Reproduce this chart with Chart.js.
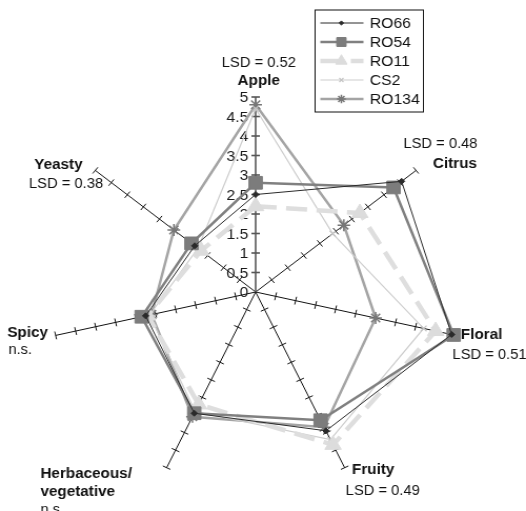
<!DOCTYPE html>
<html lang="en">
<head>
  <meta charset="UTF-8">
  <title>Aroma profile radar</title>
  <style>
    * { margin: 0; padding: 0; box-sizing: border-box; }
    body { background: #fff; width: 526px; height: 511px; overflow: hidden; }
    /* the source figure is slightly wider than tall, so stretch the drawing a bit */
    #wrap { width: 500px; height: 511px; transform: scaleX(1.052); transform-origin: 0 0; }
  </style>
  <script src="https://cdn.jsdelivr.net/npm/chart.js"></script>
</head>
<body>
  <div id="wrap"><canvas id="radar"></canvas></div>

  <script>
    const categories = ["Apple", "Citrus", "Floral", "Fruity", "Herbaceous/vegetative", "Spicy", "Yeasty"];
    const labelLines = [["Apple"], ["Citrus"], ["Floral"], ["Fruity"], ["Herbaceous/", "vegetative"], ["Spicy"], ["Yeasty"]];
    const lsdNotes = ["LSD = 0.52", "LSD = 0.48", "LSD = 0.51", "LSD = 0.49", "n.s.", "n.s.", "LSD = 0.38"];
    const tickValues = [0, 0.5, 1, 1.5, 2, 2.5, 3, 3.5, 4, 4.5, 5];

    const ro66  = [2.5, 4.55, 4.9, 3.95, 3.45, 2.75, 1.9];
    const ro54  = [2.8, 4.3, 4.95, 3.65, 3.45, 2.85, 2.0];
    const ro11  = [2.2, 3.25, 4.5, 4.35, 3.2, 2.7, 1.7];
    const cs2   = [4.7, 2.4, 4.2, 4.2, 3.4, 2.65, 1.8];
    const ro134 = [4.8, 2.75, 3.0, 3.85, 3.55, 2.6, 2.55];

    const FONT = "'Liberation Sans', Arial, sans-serif";

    // where each axis title (and its LSD note) sits relative to the end of its axis
    const labelPlace = [
      { dx: 3, dy: -16, align: "center", ndx: 3, ndy: -34 },
      { dx: 16, dy: -6, align: "left", ndx: -12, ndy: -26 },
      { dx: 5, dy: 0, align: "left", ndx: -3, ndy: 20 },
      { dx: 7, dy: 2, align: "left", ndx: 1, ndy: 23 },
      { dx: -120, dy: 6, align: "left", ndx: -120, ndy: 42 },
      { dx: -46, dy: -2, align: "left", ndx: -45, ndy: 15 },
      { dx: -58, dy: -5, align: "left", ndx: -63, ndy: 14 }
    ];

    const axisTicks = {
      id: "axisTicks",
      beforeDatasetsDraw(chart) {
        const r = chart.scales.r;
        const ctx = chart.ctx;
        ctx.save();
        for (let i = 0; i < categories.length; i++) {
          ctx.strokeStyle = i === 0 ? "#555" : "#111";
          ctx.lineWidth = i === 0 ? 1.6 : 1;
          for (const v of tickValues) {
            if (v === 0) continue;
            const p = r.getPointPositionForValue(i, v);
            const px = -Math.sin(p.angle), py = Math.cos(p.angle);
            ctx.beginPath();
            ctx.moveTo(p.x - px * 4, p.y - py * 4);
            ctx.lineTo(p.x + px * 4, p.y + py * 4);
            ctx.stroke();
          }
        }
        // value labels along the Apple axis
        ctx.fillStyle = "#1a1a1a";
        ctx.font = "15px " + FONT;
        ctx.textAlign = "right";
        ctx.textBaseline = "middle";
        for (const v of tickValues) {
          const p = r.getPointPositionForValue(0, v);
          ctx.fillText(String(v), p.x - 7, p.y + 1);
        }
        ctx.restore();
      }
    };

    const labelsAndLegend = {
      id: "labelsAndLegend",
      afterDraw(chart) {
        const r = chart.scales.r;
        const ctx = chart.ctx;
        ctx.save();
        ctx.fillStyle = "#111";
        ctx.textBaseline = "middle";
        for (let i = 0; i < categories.length; i++) {
          const end = r.getPointPositionForValue(i, 5);
          const pl = labelPlace[i];
          ctx.textAlign = pl.align;
          ctx.font = "bold 14.5px " + FONT;
          labelLines[i].forEach((line, k) => {
            ctx.fillText(line, end.x + pl.dx, end.y + pl.dy + k * 18);
          });
          ctx.font = "14px " + FONT;
          ctx.fillText(lsdNotes[i], end.x + pl.ndx, end.y + pl.ndy);
        }

        // legend box
        const bx = 299.5, by = 10, bw = 103, bh = 102;
        ctx.strokeStyle = "#111";
        ctx.lineWidth = 1;
        ctx.strokeRect(bx, by, bw, bh);
        chart.data.datasets.forEach((ds, k) => {
          const y = 23 + k * 19;
          ctx.save();
          ctx.strokeStyle = ds.borderColor;
          ctx.lineWidth = ds.borderWidth;
          ctx.setLineDash(ds.borderDash || []);
          ctx.beginPath();
          ctx.moveTo(bx + 5, y);
          ctx.lineTo(bx + 46, y);
          ctx.stroke();
          ctx.setLineDash([]);
          ctx.fillStyle = ds.pointBackgroundColor;
          ctx.strokeStyle = ds.pointBorderColor;
          ctx.lineWidth = ds.pointBorderWidth;
          Chart.helpers.drawPoint(ctx, {
            pointStyle: ds.pointStyle,
            radius: ds.pointRadius * 0.7,
            rotation: 0,
            borderWidth: ds.pointBorderWidth
          }, bx + 25, y);
          ctx.restore();
          ctx.fillStyle = "#111";
          ctx.font = "15px " + FONT;
          ctx.textAlign = "left";
          ctx.fillText(ds.label, bx + 52, y + 1);
        });
        ctx.restore();
      }
    };

    new Chart(document.getElementById("radar"), {
      type: "radar",
      data: {
        labels: categories,
        datasets: [
          {
            label: "RO66", data: ro66,
            borderColor: "#2a2a2a", borderWidth: 1,
            pointStyle: "rectRot", pointRadius: 3,
            pointBackgroundColor: "#2a2a2a", pointBorderColor: "#2a2a2a", pointBorderWidth: 1
          },
          {
            label: "RO54", data: ro54,
            borderColor: "#808080", borderWidth: 2.5,
            pointStyle: "rect", pointRadius: 9,
            pointBackgroundColor: "#7c7c7c", pointBorderColor: "#7c7c7c", pointBorderWidth: 1
          },
          {
            label: "RO11", data: ro11,
            borderColor: "#dedede", borderWidth: 4.5, borderDash: [20, 9],
            pointStyle: "triangle", pointRadius: 9,
            pointBackgroundColor: "#dcdcdc", pointBorderColor: "#dcdcdc", pointBorderWidth: 1
          },
          {
            label: "CS2", data: cs2,
            borderColor: "#cdcdcd", borderWidth: 1.2,
            pointStyle: "crossRot", pointRadius: 4,
            pointBackgroundColor: "#c4c4c4", pointBorderColor: "#c4c4c4", pointBorderWidth: 1.2
          },
          {
            label: "RO134", data: ro134,
            borderColor: "#a4a4a4", borderWidth: 2.5,
            pointStyle: "star", pointRadius: 6,
            pointBackgroundColor: "#777", pointBorderColor: "#777", pointBorderWidth: 1.5
          }
        ]
      },
      options: {
        responsive: true,
        maintainAspectRatio: false,
        animation: false,
        layout: { padding: { left: 48, right: 62, top: 97, bottom: 24 } },
        elements: { line: { tension: 0, fill: false } },
        plugins: { legend: { display: false }, tooltip: { enabled: false } },
        scales: {
          r: {
            min: 0, max: 5,
            ticks: { display: false, stepSize: 0.5 },
            grid: { display: false },
            pointLabels: { display: false },
            angleLines: {
              color: (c) => c.index === 0 ? "#555" : "#111",
              lineWidth: (c) => c.index === 0 ? 1.6 : 1
            }
          }
        }
      },
      plugins: [axisTicks, labelsAndLegend]
    });
  </script>
</body>
</html>
